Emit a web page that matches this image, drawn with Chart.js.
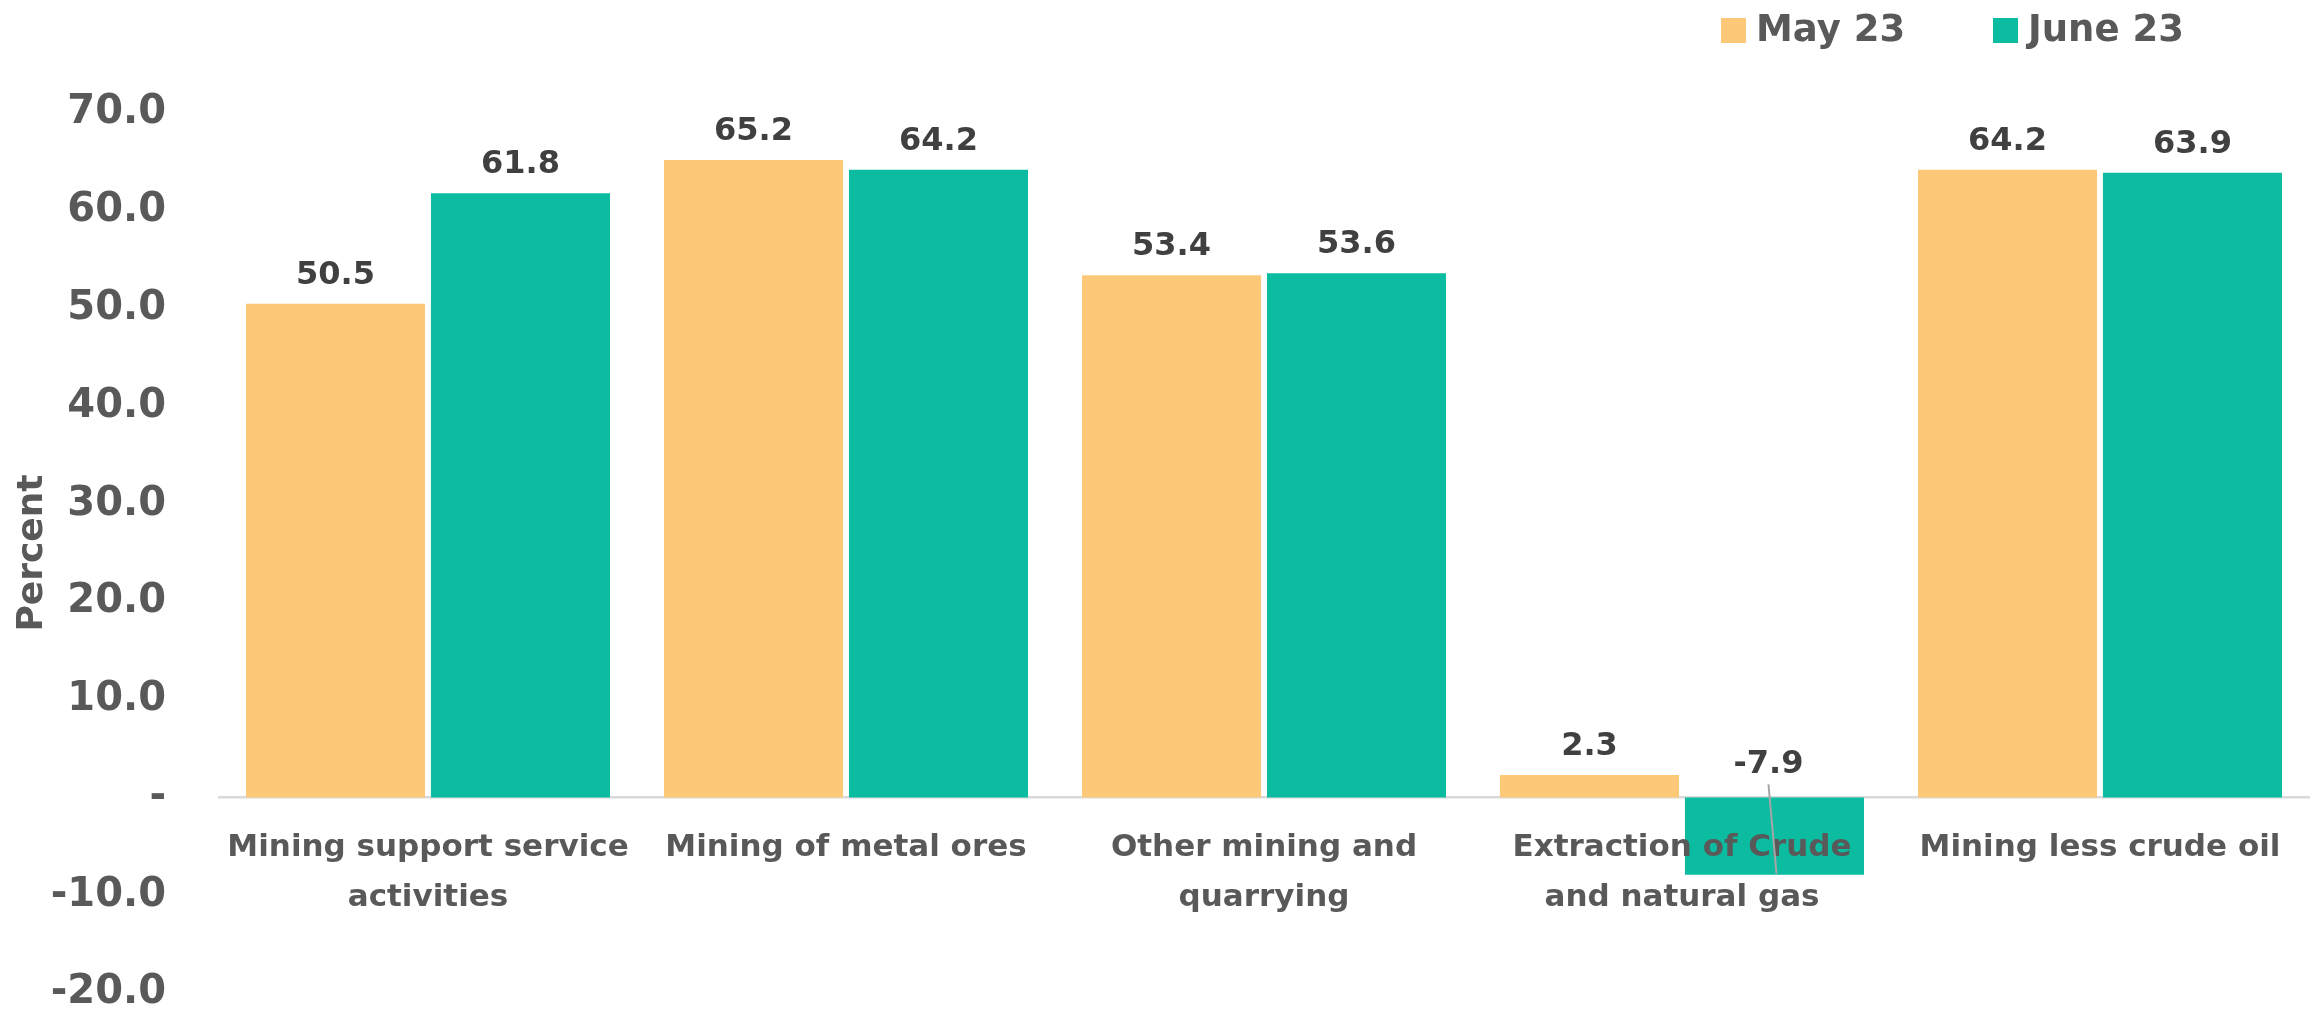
<!DOCTYPE html>
<html>
<head>
<meta charset="utf-8">
<script src="https://cdn.jsdelivr.net/npm/chart.js@4.4.0/dist/chart.umd.min.js"></script>
<style>
  html, body { margin: 0; padding: 0; background: #fff; }
  #wrap { width: 2320px; height: 1013px; }
</style>
</head>
<body>
<div id="wrap"><canvas id="chart" width="2320" height="1013"></canvas></div>
<script>
// chart data
const categories = [
  ['Mining support service', 'activities'],
  'Mining of metal ores',
  ['Other mining and', 'quarrying'],
  ['Extraction of Crude', 'and natural gas'],
  'Mining less crude oil'
];
const seriesNames = ['May 23', 'June 23'];
const may23 = [50.5, 65.2, 53.4, 2.3, 64.2];
const june23 = [61.8, 64.2, 53.6, -7.9, 63.9];
const yMin = -20, yMax = 70, yStep = 10;

const FONT = '"DejaVu Sans", sans-serif';
const ORANGE = '#FDC978';
const TEAL = '#0BBCA0';

// value labels on top of bars; the negative one sits above the axis with a leader line
const valueLabels = {
  id: 'valueLabels',
  afterDraw(chart) {
    const ctx = chart.ctx;
    const zeroY = chart.scales.y.getPixelForValue(0);
    ctx.save();
    ctx.font = 'bold 32px ' + FONT;
    ctx.fillStyle = '#404040';
    ctx.textAlign = 'center';
    ctx.textBaseline = 'alphabetic';
    chart.data.datasets.forEach((ds, i) => {
      chart.getDatasetMeta(i).data.forEach((bar, j) => {
        const v = ds.data[j];
        const txt = v.toFixed(1);
        if (v >= 0) {
          ctx.fillText(txt, bar.x, bar.y - 20);
        } else {
          ctx.fillText(txt, bar.x - 6, zeroY - 24);
          ctx.strokeStyle = '#a6a6a6';
          ctx.lineWidth = 2;
          ctx.beginPath();
          ctx.moveTo(bar.x - 6, zeroY - 13);
          ctx.lineTo(bar.x + 2, bar.y - 1);
          ctx.stroke();
        }
      });
    });
    ctx.restore();
  }
};

// legend drawn top right
const topLegend = {
  id: 'topLegend',
  afterDraw(chart) {
    const ctx = chart.ctx;
    const starts = [1721, 1993];
    ctx.save();
    ctx.font = 'bold 37px ' + FONT;
    ctx.textBaseline = 'middle';
    ctx.textAlign = 'left';
    chart.data.datasets.forEach((ds, i) => {
      const x = starts[i];
      ctx.fillStyle = ds.backgroundColor;
      ctx.fillRect(x, 18, 25, 25);
      ctx.fillStyle = '#595959';
      ctx.fillText(ds.label, x + 35, 31);
    });
    ctx.restore();
  }
};

new Chart(document.getElementById('chart'), {
  type: 'bar',
  data: {
    labels: categories,
    datasets: [
      { label: seriesNames[0], data: may23, backgroundColor: ORANGE },
      { label: seriesNames[1], data: june23, backgroundColor: TEAL }
    ]
  },
  options: {
    responsive: false,
    animation: false,
    layout: { padding: { left: 11, right: 11, top: 113, bottom: 20 } },
    datasets: {
      bar: { categoryPercentage: 0.885, barPercentage: 0.968 }
    },
    plugins: {
      legend: { display: false },
      tooltip: { enabled: false }
    },
    scales: {
      x: {
        position: { y: 0 },
        grid: { display: false, drawTicks: false },
        border: { display: true, color: '#d9d9d9', width: 2.5 },
        afterFit(scale) {
          scale.height = 0;
          scale.paddingTop = 0;
          scale.paddingBottom = 0;
        },
        ticks: {
          z: 1,
          color: '#595959',
          font: { family: FONT, size: 31, weight: 'bold', lineHeight: 1.62 },
          padding: 25,
          maxRotation: 0,
          autoSkip: false
        }
      },
      y: {
        min: yMin,
        max: yMax,
        grid: { display: false, drawTicks: false },
        border: { display: false },
        afterFit(scale) {
          scale.width = 208;
          scale.paddingTop = 0;
          scale.paddingBottom = 0;
        },
        title: {
          display: true,
          text: 'Percent',
          color: '#595959',
          font: { family: FONT, size: 36, weight: 'bold', lineHeight: 1.2 },
          padding: 0
        },
        ticks: {
          stepSize: yStep,
          color: '#595959',
          font: { family: FONT, size: 40, weight: 'bold' },
          padding: 53,
          callback: v => v === 0 ? '-' : v.toFixed(1)
        }
      }
    }
  },
  plugins: [valueLabels, topLegend]
});
</script>
</body>
</html>
